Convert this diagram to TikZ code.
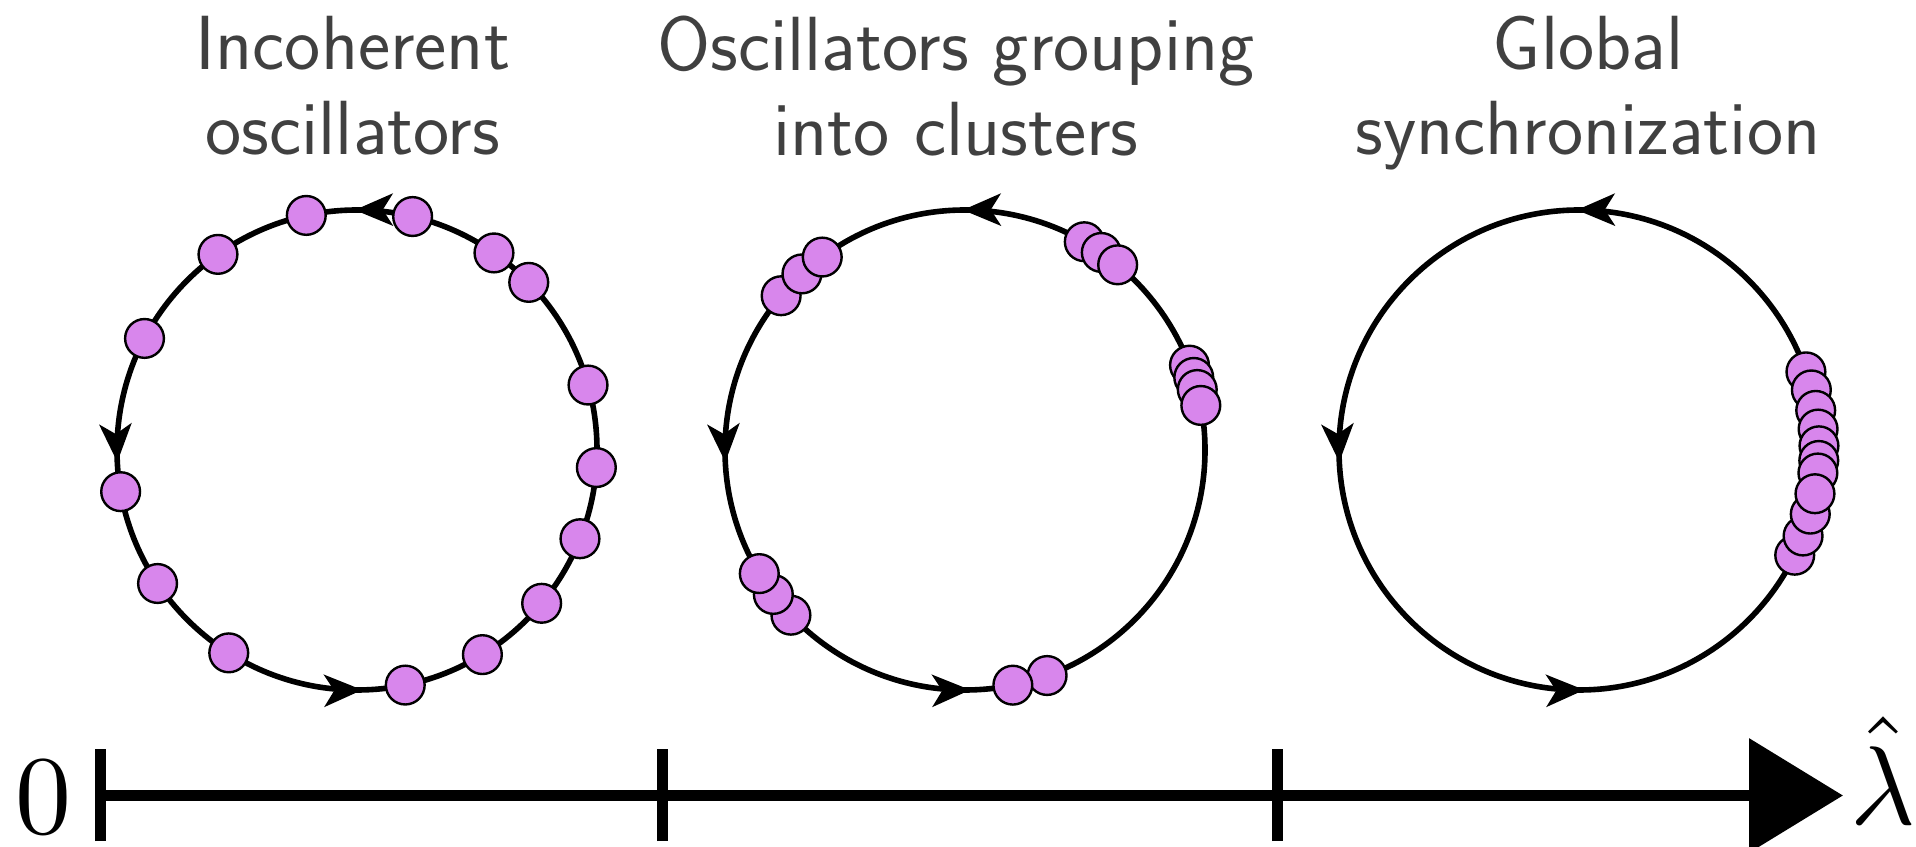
\documentclass[tikz,border=0pt]{standalone}
\usetikzlibrary{arrows.meta,decorations.markings}
\definecolor{dotc}{RGB}{216,134,236}
\definecolor{txtc}{RGB}{64,64,64}
\begin{document}
\begin{tikzpicture}[x=0.5pt,y=0.5pt,
  dot/.style={circle,draw=black,line width=1.2pt,fill=dotc,minimum size=19.4pt,inner sep=0pt},
  orbit/.style={line width=2.8pt,postaction={decorate},
    decoration={markings,
      mark=at position 0.2515 with {\arrow{Stealth[length=19pt,width=16pt,inset=5pt]}},
      mark=at position 0.508 with {\arrow{Stealth[length=19pt,width=16pt,inset=5pt]}},
      mark=at position 0.7535 with {\arrow{Stealth[length=19pt,width=16pt,inset=5pt]}}}},
  title/.style={text=txtc,font=\fontsize{38.4}{42.5}\selectfont\sffamily,align=center,anchor=north,inner sep=0pt},
  axisline/.style={line width=5.4pt,-{Triangle[length=47pt,width=56pt]}},
  tickmark/.style={line width=5.5pt},
  mathlabel/.style={inner sep=0pt,anchor=base,scale=5.6}]
\useasboundingbox (0,0) rectangle (1916,846);

% titles
\node[title] (t1) at (353,830) {Incoherent\\oscillators};
\node[title] (t2) at (956,830) {Oscillators grouping\\into clusters};
\node[title] (t3) at (1588,830) {Global\\synchronization};

% orbit centres
\coordinate (c1) at (357,396);
\coordinate (c2) at (965,396);
\coordinate (c3) at (1579,396);
\foreach \c in {c1,c2,c3}
  \draw[orbit] (\c) ++(0:120pt) arc[start angle=0,end angle=360,radius=120pt];

% incoherent oscillators
\foreach \a [count=\i] in {102.2,76.6,125.4,55.2,44.3,152.3,15.7,-4.2,190,-21.7,213.8,-39.7,237.7,-58.5,-78.4}
  \node[dot] (p\i) at ([shift={(\a:120pt)}]c1) {};

% clusters
\foreach \a [count=\i] in {140,132.8,126.5,60.2,55.4,50.5,20.7,17.6,14.6,10.7,223.5,217,211,290,281.5}
  \node[dot] (q\i) at ([shift={(\a:120pt)}]c2) {};

% synchronized
\foreach \a [count=\i] in {19,14.5,9.5,5,1,-2.5,-5.5,-26,-21,-15.5,-10.5}
  \node[dot] (s\i) at ([shift={(\a:120pt)}]c3) {};

% axis
\coordinate (ax0) at (100.5,50.5);
\coordinate (ax1) at (1843,50.5);
\draw[axisline] (ax0) -- (ax1);
\coordinate (k1b) at (100.5,5);   \coordinate (k1t) at (100.5,97);
\coordinate (k2b) at (662.5,5);   \coordinate (k2t) at (662.5,97);
\coordinate (k3b) at (1277,5);    \coordinate (k3t) at (1277,97);
\draw[tickmark] (k1b) -- (k1t);
\draw[tickmark] (k2b) -- (k2t);
\draw[tickmark] (k3b) -- (k3t);

\node[mathlabel] (zero) at (43,13) {$0$};
\node[mathlabel] (lam) at (1883,22) {$\hat{\lambda}$};
\end{tikzpicture}
\end{document}
